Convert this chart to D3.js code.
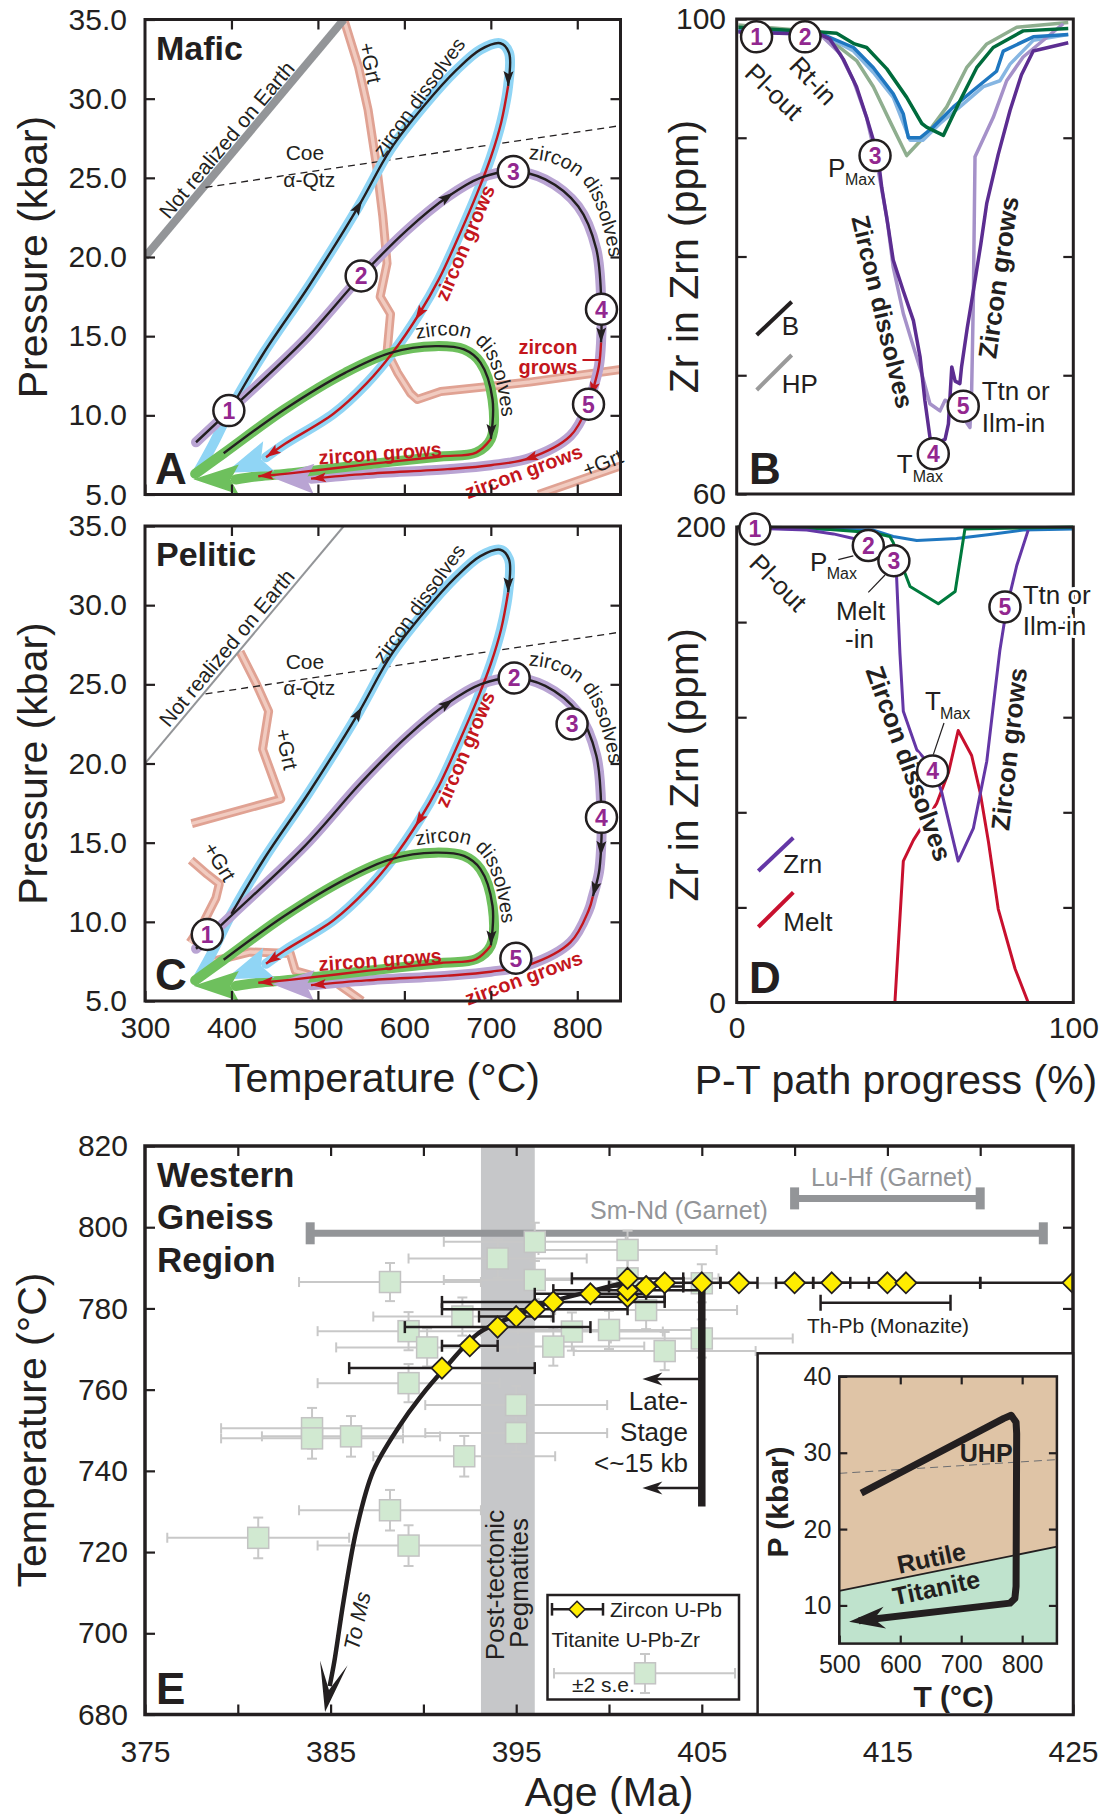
<!DOCTYPE html>
<html><head><meta charset="utf-8">
<script src="https://cdn.jsdelivr.net/npm/d3@7/dist/d3.min.js"></script>
<style>html,body{margin:0;padding:0;background:#fff}svg{display:block}</style>
</head><body>
<script>
// ================= DATA =================
// Panels A & C: P-T paths, [T (°C), P (kbar)]
const pressureTicks = [5,10,15,20,25,30,35];
const temperatureTicks = [300,400,500,600,700,800];
const notRealizedLine = [[300,20],[530,35]];
const coesiteQuartzLine = [[370,24.4],[850,28.3]];
const bluePath = [[362,6.5],[380,8.3],[400,10.5],[438,14.0],[490,18.2],[547,23.2],[584,26.8],[622,29.5],[660,31.8],[688,33.1],[711,33.5],[721,32.9],[720,30.8],[712,28.5],[700,26.3],[684,24.0],[662,21.2],[640,18.6],[617,16.4],[587,14.0],[556,12.0],[518,10.1],[462,8.2],[440,7.35]];
const purplePath = [[359,8.3],[400,10.4],[485,14.8],[550,18.8],[603,21.7],[650,23.8],[688,25.0],[726,25.4],[763,24.9],[801,23.2],[822,20.5],[828,16.7],[827.5,14.6],[825,13.1],[818,11.6],[813,10.7],[792,8.7],[745,7.3],[700,6.85],[650,6.6],[556,6.3],[492,6.0]];
const greenPath = [[358,6.3],[391,7.6],[462,10.4],[532,12.7],[584,13.95],[636,14.37],[669,14.16],[688,13.33],[702,11.0],[700,8.5],[683,7.65],[642,7.4],[556,6.9],[470,6.35],[431,6.15],[405,5.95]];
const blueArrowTip = [393,6.38];
const purpleArrowTip = [447,6.07];
const greenArrowTip = [356,5.96];
const purpleLabelPath = [[739,26.2],[770,25.95],[806,24.75],[829,22.0],[841,18.2],[845,14.5]];
const greenLabelPath = [[612,14.8],[650,15.05],[676,14.8],[692,14.0],[705,12.3],[712,10.3],[716,7.8]];
const garnetInA = [[[530,35],[547,32],[558,29.3],[568,25.7],[575,22.6],[580,19.6],[572,17.5],[584,16.4],[580,14.0],[592,12.7],[607,11.4],[615,11.0],[642,11.5],[745,12.1],[850,12.9]],[[755,5],[850,6.8]]];
const garnetInC = [[[410,27.06],[429,25.0],[443,23.3],[436,20.9],[457,17.75],[354,16.2]],[[353,13.9],[372,13.0],[386,12.4],[382,11.5],[368,10.0],[352,8.7]],[[378,7.5],[422,8.1],[468,8.0],[474,6.9],[520,6.2],[551,5.0]]];
const stagesA = [[397,10.3],[550,18.8],[726,25.4],[828,16.7],[813,10.7]];
const stagesC = [[372,9.2],[727,25.4],[794,22.5],[828,16.6],[729,7.7]];

// Panel B: Zr in zircon (ppm) vs P-T path progress (%)
const zrTicksB = [60,70,80,90,100];
const bZrnB = [[0.5,98.9],[24.8,98.7],[27.7,98.3],[31.7,96.6],[35.6,94.3],[38.6,91.7],[40.6,89.8],[42.1,88.1],[43.1,85.8],[45.0,82.5],[46.5,79.7],[49.5,77.1],[52.5,74.6],[54.5,71.5],[55.9,67.9],[57.4,64.8],[58.4,64.2],[61.9,64.6],[62.9,65.9],[63.9,70.7],[64.9,69.5],[66.3,69.3],[66.8,70.7],[68.5,74.0],[70.3,77.1],[72.5,81.0],[74.3,84.5],[77.7,88.6],[81.2,92.3],[84.6,95.3],[88.1,97.3],[98.5,98.0]];
const bZrnHP = [[0.5,99.0],[24.8,98.7],[30.7,97.1],[34.7,94.8],[38.6,91.7],[41.5,88.1],[44.6,83.3],[46.5,79.1],[49.5,75.2],[52.5,72.4],[55.0,70.1],[57.4,67.6],[60.4,67.0],[61.9,67.9],[64.4,67.6],[69.3,65.6],[69.8,68.7],[70.3,76.3],[70.8,88.4],[76.2,91.7],[80.2,94.8],[85.1,96.8],[97.0,99.6]];
const bGreenB = [[0.5,99.3],[24.8,98.9],[29.7,98.8],[35.0,97.9],[38.6,97.6],[44.6,95.8],[50.5,93.4],[55.0,91.2],[56.4,90.9],[61.4,90.2],[66.3,93.1],[71.3,95.9],[76.2,97.6],[85.1,99.0],[98.5,99.2]];
const bGreenHP = [[0.5,99.5],[24.8,98.9],[35.6,96.5],[40.6,94.3],[45.5,91.4],[50.5,88.5],[56.4,90.3],[62.4,92.6],[68.3,95.9],[74.3,97.9],[83.2,99.3],[98.5,99.7]];
const bBlueB = [[0.5,99.0],[24.8,98.8],[34.7,97.6],[40.6,95.9],[46.5,93.7],[49.5,92.0],[51.0,90.0],[54.5,90.0],[58.4,90.9],[64.4,92.6],[70.3,94.0],[77.2,95.6],[79.2,97.3],[88.1,98.5],[98.5,98.7]];
const bBlueHP = [[24.8,98.8],[34.7,97.3],[40.6,95.5],[46.5,93.4],[51.5,89.8],[55.4,89.8],[60.4,91.2],[66.3,92.6],[73.3,94.3],[78.2,94.8],[81.2,96.2],[88.1,98.2],[98.5,98.7]];
const stagesB = [[5.9,98.5],[20.3,98.5],[41.1,88.5],[58.4,63.4],[67.3,67.4]];

// Panel D
const zrTicksD = [0,40,80,120,160,200];
const dGreen = [[0,200],[20.8,199.7],[40.6,197.6],[45.5,196],[46.5,193.5],[51.5,175],[59.9,167.7],[64.9,172.9],[67.8,199.2],[100,200]];
const dBlue = [[0,199.7],[40.6,198.7],[46.5,196],[53.5,194.3],[65.3,195.2],[75.2,196.8],[85.1,198.7],[100,199.2]];
const dZrn = [[0,199.7],[20.8,198.7],[28.7,197.1],[34.7,195.2],[39.6,192.7],[46.5,187.1],[47.5,179],[48.5,146.7],[49.5,122.5],[53.5,106.3],[58.4,98.2],[60.9,88.5],[65.8,59.5],[70.3,73.2],[74.3,101.5],[76.7,130.5],[78.2,148.3],[80.2,166],[83.2,183.8],[86.6,198.7]];
const dMelt = [[47.0,0],[49.5,59.5],[52.5,68.3],[59.4,83.7],[62.9,96.6],[65.8,114.4],[69.8,103.9],[72.3,88.5],[74.8,67.5],[77.7,39.3],[82.7,14.2],[86.6,0]];
const stagesD = [[5.4,199.2],[39.1,192.2],[46.7,185.8],[58.2,97.4],[79.7,166.4]];

// Panel E: Western Gneiss Region, age (Ma) vs temperature (°C)
const ageTicks = [375,380,385,390,395,400,405,410,415,420,425];
const tempTicksE = [680,700,720,740,760,780,800,820];
const zirconAges  = [391.0,392.5,394.0,395.0,396.0,397.0,399.0,401.0,401.0,401.0,402.0,403.0,405.0,407.0,410.0,412.0,415.0,416.0,425.0];
const zirconTemps = [765.3,770.8,775.4,778.0,779.8,781.6,783.6,782.9,784.5,787.4,785.4,786.3,786.3,786.3,786.3,786.3,786.3,786.3,786.3];
const zirconAgeErr= [5.0,1.5,5.0,2.0,5.0,6.0,3.0,2.0,4.0,3.0,2.0,1.0,1.0,1.0,1.0,1.0,1.0,4.0,5.0];
const titaniteAges  = [388.2,389.2,390.2,389.2,384.0,384.0,386.1,392.2,388.2,389.2,381.1,396.0,394.0,401.0,396.0,392.1,398.0,400.0,402.0,397.0,403.0,405.0,395.0,395.0,401.0,405.0];
const titaniteTemps = [786.5,774.4,770.4,761.6,750.5,748.0,748.5,743.6,730.3,721.6,723.5,796.4,792.3,794.4,787.0,778.0,774.3,774.7,779.6,770.6,769.5,772.6,756.2,749.3,787.4,786.2];
const titaniteAgeErr= [4.9,4.9,4.9,4.9,4.9,4.9,4.8,4.9,4.9,4.9,4.9,4.9,4.8,4.8,4.9,4.8,4.9,4.9,4.9,4.9,4.9,4.9,4.9,4.9,4.9,4.9];
const titaniteTempErr=[4.7,4.7,4.7,4.7,5.0,5.0,5.0,5.0,5.0,5.0,5.0,4.7,4.7,4.7,4.7,4.7,4.7,4.7,4.7,4.7,4.7,4.7,4.7,4.7,4.7,4.7];
const toMsPath = [[401,786.5],[399,784.2],[397,781.8],[395,778.3],[393,774.0],[391.2,765.5],[389.8,758],[388.7,751],[387.3,740],[386.4,725.7],[385.7,708],[385.2,693],[384.95,687]];
const toMsTip = [384.7,680.6];
const pegmatiteBand = [393.1,396.0];
const smNdRange = [383.9,423.4], smNdTemp = 798.5;
const luHfRange = [410.0,420.0], luHfTemp = 807.1;
const thPbRange = [411.4,418.4], thPbTemp = 781.4;
const lateStageAge = 405, lateStageTemps = [786.3,731.2], lateStageArrowTemps = [762.6,735.8], lateStageArrowTo = 401.8;

// Inset: P-T path
const insetTTicks = [500,600,700,800];
const insetPTicks = [10,20,30,40];
const rutileTitaniteLine = [[500,11.9],[857,17.7]];
const insetCoeQtz = [[500,27.3],[857,29.1]];
const insetPath = [[536,24.7],[770,34.5],[782,34.9],[790,34.0],[791,32.5],[790,12.5],[788,10.9],[780,10.3],[532,8.0]];
const insetArrowTip = [516,7.85];

// ================= DRAWING =================
const FONT = "'Liberation Sans', Arial, Helvetica, sans-serif";
const INK = '#231f20', RED = '#c4161c', NUM = '#92278f';
const svg = d3.select('body').append('svg').attr('width',1110).attr('height',1818).attr('font-family',FONT);
const defs = svg.append('defs');

function arrowHead(g, from, tip, len, w, color, notch) {
  notch = notch||0;
  const dx=tip[0]-from[0], dy=tip[1]-from[1], L=Math.hypot(dx,dy)||1, ux=dx/L, uy=dy/L;
  const bx=tip[0]-ux*len, by=tip[1]-uy*len;
  const nx=tip[0]-ux*len*(1-notch), ny=tip[1]-uy*len*(1-notch);
  g.append('path').attr('d',`M${tip[0]},${tip[1]}L${bx-uy*w/2},${by+ux*w/2}L${nx},${ny}L${bx+uy*w/2},${by-ux*w/2}Z`).attr('fill',color);
}
function notes(g, S, list) {
  list.forEach(n => {
    const [px,py] = S(n.p);
    const t = g.append('text').attr('x',px).attr('y',py).attr('font-size',n.size||20)
      .attr('fill',n.fill||INK).attr('text-anchor', n.anchor || (n.mid?'middle':'start')).text(n.s);
    if (n.mid) t.attr('dy','0.35em');
    if (n.weight) t.attr('font-weight',n.weight);
    if (n.rot) t.attr('transform',`rotate(${n.rot},${px},${py})`);
    if (n.italic) t.attr('font-style','italic');
    if (n.halo) t.attr('stroke','#fff').attr('stroke-width',n.halo).attr('paint-order','stroke').attr('stroke-linejoin','round');
  });
}
function styleAxis(ag, size) {
  ag.select('.domain').remove();
  ag.attr('font-family',FONT);
  ag.selectAll('.tick line').attr('stroke',INK).attr('stroke-width',2.2);
  ag.selectAll('.tick text').attr('font-size',size).attr('fill',INK).attr('font-family',FONT);
}
function axes(g, x, y, o) {
  const L = o.len||10;
  const X0=x.range()[0], X1=x.range()[1], Y0=y.range()[0], Y1=y.range()[1];
  if (o.left) styleAxis(g.append('g').attr('transform',`translate(${X0},0)`).call(d3.axisLeft(y).tickValues(o.left.ticks).tickSize(o.left.len!==undefined?o.left.len:-L).tickPadding(o.left.pad||10).tickFormat(o.left.fmt||(()=> ''))), o.left.size||30);
  if (o.right) styleAxis(g.append('g').attr('transform',`translate(${X1},0)`).call(d3.axisRight(y).tickValues(o.right.ticks).tickSize(-L).tickFormat(()=> '')), 30);
  if (o.bottom) styleAxis(g.append('g').attr('transform',`translate(0,${Y0})`).call(d3.axisBottom(x).tickValues(o.bottom.ticks).tickSize(o.bottom.len!==undefined?o.bottom.len:-L).tickPadding(o.bottom.pad||10).tickFormat(o.bottom.fmt||(()=> ''))), o.bottom.size||30);
  if (o.top) styleAxis(g.append('g').attr('transform',`translate(0,${Y1})`).call(d3.axisTop(x).tickValues(o.top.ticks).tickSize(-L).tickFormat(()=> '')), 30);
}
function frame(g, x, y, w) {
  const [a,b]=x.range(), [c,d]=y.range();
  g.append('rect').attr('x',a).attr('y',d).attr('width',b-a).attr('height',c-d).attr('fill','none').attr('stroke',INK).attr('stroke-width',w||3);
}
function stageCircle(g, cx, cy, i) {
  g.append('circle').attr('cx',cx).attr('cy',cy).attr('r',15.5).attr('fill','#fff').attr('stroke',INK).attr('stroke-width',2.5);
  g.append('text').attr('x',cx).attr('y',cy).attr('dy','0.36em').attr('text-anchor','middle').attr('font-size',23).attr('font-weight','bold').attr('fill',NUM).text(i+1);
}
function yTitle(g, x, y, s, size) {
  g.append('text').attr('transform',`translate(${x},${y}) rotate(-90)`).attr('text-anchor','middle').attr('font-size',size||41).attr('fill',INK).text(s);
}

// ---------- Panels A and C ----------
function ptPanel(p) {
  const g = svg.append('g');
  const x = d3.scaleLinear().domain([300,850]).range([145,620.5]);
  const y = d3.scaleLinear().domain([5,35]).range([p.bottom,p.top]);
  const S = d => [x(d[0]), y(d[1])];
  const lin = d3.line().x(d=>x(d[0])).y(d=>y(d[1]));
  const crv = d3.line().x(d=>x(d[0])).y(d=>y(d[1])).curve(d3.curveCatmullRom.alpha(0.5));
  defs.append('clipPath').attr('id','clip'+p.id).append('rect').attr('x',145).attr('y',p.top).attr('width',475.5).attr('height',p.bottom-p.top);
  const pg = g.append('g').attr('clip-path',`url(#clip${p.id})`);
  p.grt.forEach(l => {
    pg.append('path').attr('d',lin(l)).attr('fill','none').attr('stroke','#e0a293').attr('stroke-width',9).attr('stroke-linejoin','round');
    pg.append('path').attr('d',lin(l)).attr('fill','none').attr('stroke','#f1cbc0').attr('stroke-width',3.5).attr('stroke-linejoin','round');
  });
  pg.append('path').attr('d',lin(notRealizedLine)).attr('fill','none').attr('stroke','#939598').attr('stroke-width',p.grayW);
  pg.append('path').attr('d',lin(coesiteQuartzLine)).attr('fill','none').attr('stroke',INK).attr('stroke-width',1.3).attr('stroke-dasharray','7,5');
  const halos = [[bluePath,'#90d5f5',blueArrowTip,32],[purplePath,'#b9a4d3',purpleArrowTip,30],[greenPath,'#6ec05d',greenArrowTip,30]];
  halos.forEach(([pts,col]) => pg.append('path').attr('d',crv(pts)).attr('fill','none').attr('stroke',col).attr('stroke-width',10).attr('stroke-linecap','round').attr('stroke-linejoin','round'));
  halos.forEach(([pts,col,tip,w]) => { const a=S(pts[pts.length-1]), t=S(tip); arrowHead(pg,a,t,Math.hypot(t[0]-a[0],t[1]-a[1])+3,w,col,0.18); });
  function seg(pts, a, b, color, mids) {
    const sub = pts.slice(a,b+1);
    pg.append('path').attr('d',crv(sub)).attr('fill','none').attr('stroke',color).attr('stroke-width',2.4);
    const sp = sub.map(S);
    arrowHead(pg, sp[sp.length-2], sp[sp.length-1], 15, 10, color, 0.2);
    mids.forEach(i => { const P=S(pts[i]), A=S(pts[i-1]), B=S(pts[i+1]); const dx=B[0]-A[0], dy=B[1]-A[1], L=Math.hypot(dx,dy);
      arrowHead(pg,[P[0]-dx/L,P[1]-dy/L],[P[0]+dx/L*7,P[1]+dy/L*7],15,10,color,0.2); });
  }
  p.segs.forEach(s => seg(s[0],s[1],s[2],s[3],s[4]));
  if (p.tick) pg.append('path').attr('d',lin(p.tick)).attr('stroke',RED).attr('stroke-width',2).attr('fill','none');
  [[purpleLabelPath,'pl'+p.id,4],[greenLabelPath,'gl'+p.id,2]].forEach(([pts,id,off]) => {
    defs.append('path').attr('id',id).attr('d',crv(pts));
    g.append('text').attr('font-size',20).attr('fill',INK).append('textPath').attr('href','#'+id).attr('xlink:href','#'+id).attr('startOffset',off).text('zircon dissolves');
  });
  notes(g, S, p.notes);
  p.stages.forEach((c,i) => { const [cx,cy]=S(c); stageCircle(g,cx,cy,i); });
  axes(g, x, y, {
    left:{ticks:pressureTicks, pad:18, fmt:d3.format('.1f')},
    right:{ticks:[10,15,20,25,30]},
    bottom:{ticks:temperatureTicks, pad:15.5, fmt:p.xLabels?d3.format('d'):(()=> '')},
    top:{ticks:[400,500,600,700,800]}
  });
  frame(g, x, y, 3);
  g.append('text').attr('x',156).attr('y',p.top+40).attr('font-size',34).attr('font-weight','bold').attr('fill',INK).text(p.title);
  g.append('text').attr('x',155).attr('y',p.bottom-11).attr('font-size',44).attr('font-weight','bold').attr('fill',INK).text(p.letter);
  yTitle(g, 47, (p.top+p.bottom)/2, 'Pressure (kbar)');
}
const commonNotes = (dy) => [
  {p:[394.5,27.4+dy], s:'Not realized on Earth', size:21, rot:-50, mid:true},
  {p:[485,26.1+dy], s:'Coe', size:21, anchor:'middle'},
  {p:[490,24.45+dy], s:'α-Qtz', size:21, anchor:'middle'},
  {p:[617,30.1], s:'zircon dissolves', size:20, rot:-54, mid:true},
  {p:[670,20.9], s:'zircon grows', size:20, rot:-67, mid:true, fill:RED, weight:'bold'},
  {p:[572,7.6], s:'zircon grows', size:20, rot:-4, mid:true, fill:RED, weight:'bold'},
  {p:[738,6.45], s:'zircon grows', size:20, rot:-20, mid:true, fill:RED, weight:'bold'}
];
ptPanel({id:'A', top:19.5, bottom:494.5, grayW:8, grt:garnetInA, stages:stagesA, title:'Mafic', letter:'A', xLabels:false,
  segs:[[bluePath,2,12,INK,[5]],[bluePath,12,23,RED,[18]],[purplePath,0,12,INK,[5]],[purplePath,12,21,RED,[14,17]],[greenPath,1,9,INK,[]],[greenPath,9,14,RED,[]]],
  tick:[[806,13.5],[826,13.5]],
  notes: commonNotes(0).concat([
    {p:[560.8,32.25], s:'+Grt', size:21, rot:78, mid:true},
    {p:[732,13.9], s:'zircon', size:20, fill:RED, weight:'bold'},
    {p:[732,12.6], s:'grows', size:20, fill:RED, weight:'bold'},
    {p:[829.4,7.0], s:'+Grt', size:21, rot:-22, mid:true}
  ])});
ptPanel({id:'C', top:526, bottom:1001, grayW:2, grt:garnetInC, stages:stagesC, title:'Pelitic', letter:'C', xLabels:true,
  segs:[[bluePath,2,12,INK,[5]],[bluePath,12,23,RED,[18]],[purplePath,0,14,INK,[5,12]],[purplePath,14,21,RED,[]],[greenPath,1,9,INK,[]],[greenPath,9,14,RED,[]]],
  notes: commonNotes(-0.1).concat([
    {p:[464,20.9], s:'+Grt', size:21, rot:78, mid:true},
    {p:[386.4,13.8], s:'+Grt', size:21, rot:58, mid:true}
  ])});
svg.append('text').attr('x',382.5).attr('y',1092).attr('text-anchor','middle').attr('font-size',41).attr('fill',INK).text('Temperature (°C)');

// ---------- Panels B and D ----------
function zrPanel(p) {
  const g = svg.append('g');
  const x = d3.scaleLinear().domain([0,100]).range([736.7,1073.3]);
  const y = d3.scaleLinear().domain(p.domain).range([p.bottom,p.top]);
  const S = d => [x(d[0]), y(d[1])];
  const lin = d3.line().x(d=>x(d[0])).y(d=>y(d[1]));
  defs.append('clipPath').attr('id','clip'+p.id).append('rect').attr('x',736.7).attr('y',p.top-3).attr('width',336.6).attr('height',p.bottom-p.top+3);
  const pg = g.append('g').attr('clip-path',`url(#clip${p.id})`);
  p.series.forEach(([d,col,w]) => pg.append('path').attr('d',lin(d)).attr('fill','none').attr('stroke',col).attr('stroke-width',w||3.5).attr('stroke-linejoin','round'));
  p.legend.forEach(([a,b,col]) => g.append('line').attr('x1',a[0]).attr('y1',a[1]).attr('x2',b[0]).attr('y2',b[1]).attr('stroke',col).attr('stroke-width',4));
  (p.leaders||[]).forEach(([a,b]) => g.append('line').attr('x1',a[0]).attr('y1',a[1]).attr('x2',b[0]).attr('y2',b[1]).attr('stroke',INK).attr('stroke-width',1.2));
  axes(g, x, y, {
    left:{ticks:p.ticks, pad:10.7, fmt:d=> (d===p.domain[0]||d===p.domain[1])?d:''},
    right:{ticks:p.ticks.slice(1,-1)},
    bottom: p.xLabels ? {ticks:[0,100], len:0, pad:14, fmt:d3.format('d')} : null
  });
  frame(g, x, y, 3);
  notes(pg, d=>d, p.inNotes||[]);
  notes(g, d=>d, p.notes);
  p.stages.forEach((c,i) => { const [cx,cy]=S(c); stageCircle(g,cx,cy,i); });
  yTitle(g, 698, (p.top+p.bottom)/2, 'Zr in Zrn (ppm)');
}
zrPanel({id:'B', domain:[60,100], top:19, bottom:494, ticks:zrTicksB, stages:stagesB, xLabels:false,
  series:[[bGreenHP,'#8fae8f'],[bBlueHP,'#86b6e2'],[bZrnHP,'#a591c9'],[bBlueB,'#1f77c0'],[bGreenB,'#006b3c'],[bZrnB,'#5c2d91']],
  legend:[[[756.7,335],[791.7,301.7],INK],[[756.7,390],[791.7,355],'#9a9a9a']],
  notes:[
    {p:[774,91.7], s:'Pl-out', size:26, rot:44, mid:true},
    {p:[813.3,80.8], s:'Rt-in', size:26, rot:46, mid:true},
    {p:[828,177], s:'P', size:26},
    {p:[845,185], s:'Max', size:16},
    {p:[882.5,311.7], s:'Zircon dissolves', size:25, rot:76.6, mid:true, weight:'bold'},
    {p:[998.3,277.5], s:'Zircon grows', size:26, rot:-82, mid:true, weight:'bold'},
    {p:[981.7,400], s:'Ttn or', size:26},
    {p:[981.7,431.7], s:'Ilm-in', size:26},
    {p:[896.7,473.3], s:'T', size:26},
    {p:[912.7,481.7], s:'Max', size:16},
    {p:[781.7,335], s:'B', size:26},
    {p:[781.7,393.3], s:'HP', size:26},
    {p:[749,484], s:'B', size:44, weight:'bold'}
  ]});
zrPanel({id:'D', domain:[0,200], top:527, bottom:1002.5, ticks:zrTicksD, stages:stagesD, xLabels:true,
  series:[[dBlue,'#1f77c0',3],[dGreen,'#007a3d',3],[dMelt,'#c8102e',3],[dZrn,'#6437a6',3]],
  legend:[[[758.3,871],[793.3,837.7],'#6437a6'],[[758.3,927],[793.3,892.3],'#c8102e']],
  leaders:[[[838.3,559.6],[853.3,555.8]],[[868.3,592.3],[885,575]],[[944,723],[933.3,754.6]]],
  inNotes:[
    {p:[909,763.5], s:'Zircon dissolves', size:26, rot:70, mid:true, weight:'bold', halo:6},
    {p:[1009,749], s:'Zircon grows', size:26, rot:-83.6, mid:true, weight:'bold', halo:6}
  ],
  notes:[
    {p:[778.3,582.7], s:'Pl-out', size:26, rot:45, mid:true},
    {p:[810,571], s:'P', size:26},
    {p:[826.7,578.8], s:'Max', size:16},
    {p:[836,620], s:'Melt', size:26},
    {p:[845,648], s:'-in', size:26},
    {p:[925,709.6], s:'T', size:26},
    {p:[940,718.5], s:'Max', size:16},
    {p:[1022.7,603.8], s:'Ttn or', size:26, halo:6},
    {p:[1022.7,635.4], s:'Ilm-in', size:26, halo:6},
    {p:[783.3,873], s:'Zrn', size:26},
    {p:[783.3,930.8], s:'Melt', size:26},
    {p:[749,993], s:'D', size:44, weight:'bold'}
  ]});
svg.append('text').attr('x',896).attr('y',1094).attr('text-anchor','middle').attr('font-size',41).attr('fill',INK).text('P-T path progress (%)');

// ---------- Panel E ----------
(function(){
  const g = svg.append('g');
  const x = d3.scaleLinear().domain([375,425]).range([145,1073]);
  const y = d3.scaleLinear().domain([680,820]).range([1714.5,1146]);
  defs.append('clipPath').attr('id','clipE').append('rect').attr('x',145).attr('y',1146).attr('width',928).attr('height',568.5);
  const eg = g.append('g').attr('clip-path','url(#clipE)');
  eg.append('rect').attr('x',x(pegmatiteBand[0])).attr('y',1146).attr('width',x(pegmatiteBand[1])-x(pegmatiteBand[0])).attr('height',568.5).attr('fill','#c6c7c9');
  [[smNdRange,smNdTemp],[luHfRange,luHfTemp]].forEach(([r,t]) => {
    eg.append('line').attr('x1',x(r[0])).attr('x2',x(r[1])).attr('y1',y(t)).attr('y2',y(t)).attr('stroke','#939598').attr('stroke-width',7);
    r.forEach(a => eg.append('rect').attr('x',x(a)-4.5).attr('y',y(t)-11).attr('width',9).attr('height',22).attr('fill','#939598'));
  });
  const tb = eg.append('g').attr('stroke','#c8c8c8').attr('stroke-width',2);
  titaniteAges.forEach((a,i) => {
    const t=titaniteTemps[i], ea=titaniteAgeErr[i], et=titaniteTempErr[i], cx=x(a), cy=y(t);
    tb.append('line').attr('x1',x(a-ea)).attr('x2',x(a+ea)).attr('y1',cy).attr('y2',cy);
    [a-ea,a+ea].forEach(v => tb.append('line').attr('x1',x(v)).attr('x2',x(v)).attr('y1',cy-5).attr('y2',cy+5));
    tb.append('line').attr('x1',cx).attr('x2',cx).attr('y1',y(t-et)).attr('y2',y(t+et));
    [t-et,t+et].forEach(v => tb.append('line').attr('x1',cx-5).attr('x2',cx+5).attr('y1',y(v)).attr('y2',y(v)));
  });
  titaniteAges.forEach((a,i) => eg.append('rect').attr('x',x(a)-10.5).attr('y',y(titaniteTemps[i])-10.5).attr('width',21).attr('height',21).attr('fill','#d1e9d1').attr('stroke','#c3c3c3').attr('stroke-width',1.5));
  const zb = eg.append('g').attr('stroke',INK).attr('stroke-width',2.5);
  zirconAges.forEach((a,i) => {
    const cy=y(zirconTemps[i]), e=zirconAgeErr[i];
    zb.append('line').attr('x1',x(a-e)).attr('x2',x(a+e)).attr('y1',cy).attr('y2',cy);
    [a-e,a+e].forEach(v => zb.append('line').attr('x1',x(v)).attr('x2',x(v)).attr('y1',cy-6).attr('y2',cy+6));
  });
  const ty=y(thPbTemp);
  eg.append('line').attr('x1',x(thPbRange[0])).attr('x2',x(thPbRange[1])).attr('y1',ty).attr('y2',ty).attr('stroke',INK).attr('stroke-width',2.5);
  thPbRange.forEach(a => eg.append('line').attr('x1',x(a)).attr('x2',x(a)).attr('y1',ty-8).attr('y2',ty+8).attr('stroke',INK).attr('stroke-width',2.5));
  const crv = d3.line().x(d=>x(d[0])).y(d=>y(d[1])).curve(d3.curveCatmullRom.alpha(0.5));
  eg.append('path').attr('d',crv(toMsPath)).attr('fill','none').attr('stroke',INK).attr('stroke-width',4.5);
  const e1=toMsPath[toMsPath.length-1];
  arrowHead(eg,[x(e1[0]),y(e1[1])],[x(toMsTip[0]),y(toMsTip[1])],50,28,INK,0.55);
  eg.append('line').attr('x1',x(lateStageAge)).attr('x2',x(lateStageAge)).attr('y1',y(lateStageTemps[0])).attr('y2',y(lateStageTemps[1])).attr('stroke',INK).attr('stroke-width',7.5);
  lateStageArrowTemps.forEach(t => {
    eg.append('line').attr('x1',x(lateStageAge)).attr('x2',x(lateStageArrowTo)+8).attr('y1',y(t)).attr('y2',y(t)).attr('stroke',INK).attr('stroke-width',2.5);
    arrowHead(eg,[x(lateStageAge),y(t)],[x(lateStageArrowTo),y(t)],20,13,INK,0.3);
  });
  zirconAges.forEach((a,i) => { const cx=x(a), cy=y(zirconTemps[i]);
    eg.append('path').attr('d',`M${cx},${cy-10.5}L${cx+10.5},${cy}L${cx},${cy+10.5}L${cx-10.5},${cy}Z`).attr('fill','#ffed00').attr('stroke',INK).attr('stroke-width',1.8); });
  notes(g, d=>d, [
    {p:[157,1187], s:'Western', size:35, weight:'bold'},
    {p:[157,1229], s:'Gneiss', size:35, weight:'bold'},
    {p:[157,1272], s:'Region', size:35, weight:'bold'},
    {p:[156,1704], s:'E', size:44, weight:'bold'},
    {p:[679,1219], s:'Sm-Nd (Garnet)', size:25, fill:'#939598', anchor:'middle'},
    {p:[891.7,1186], s:'Lu-Hf (Garnet)', size:25, fill:'#939598', anchor:'middle'},
    {p:[888,1333], s:'Th-Pb (Monazite)', size:21, anchor:'middle'},
    {p:[688,1410], s:'Late-', size:26, anchor:'end'},
    {p:[688,1441], s:'Stage', size:26, anchor:'end'},
    {p:[688,1472], s:'<~15 kb', size:26, anchor:'end'},
    {p:[357,1621], s:'To Ms', size:22, rot:-78, mid:true, italic:true},
    {p:[504,1585], s:'Post-tectonic', size:26, rot:-90, anchor:'middle'},
    {p:[527.5,1583], s:'Pegmatites', size:26, rot:-90, anchor:'middle'}
  ]);
  const lg = g.append('g');
  lg.append('rect').attr('x',547.5).attr('y',1595).attr('width',191.5).attr('height',104.5).attr('fill','#fff').attr('stroke',INK).attr('stroke-width',2.5);
  lg.append('line').attr('x1',552).attr('x2',603).attr('y1',1609.3).attr('y2',1609.3).attr('stroke',INK).attr('stroke-width',2.5);
  [552,603].forEach(v => lg.append('line').attr('x1',v).attr('x2',v).attr('y1',1603).attr('y2',1615.6).attr('stroke',INK).attr('stroke-width',2.5));
  lg.append('path').attr('d','M577,1601.3L585,1609.3L577,1617.3L569,1609.3Z').attr('fill','#ffed00').attr('stroke',INK).attr('stroke-width',1.6);
  const lt = lg.append('g').attr('stroke','#c8c8c8').attr('stroke-width',2);
  lt.append('line').attr('x1',554).attr('x2',735).attr('y1',1673.3).attr('y2',1673.3);
  [554,735].forEach(v => lt.append('line').attr('x1',v).attr('x2',v).attr('y1',1668).attr('y2',1678.6));
  lt.append('line').attr('x1',645).attr('x2',645).attr('y1',1654).attr('y2',1693);
  [1654,1693].forEach(v => lt.append('line').attr('x1',640).attr('x2',650).attr('y1',v).attr('y2',v));
  lg.append('rect').attr('x',634.5).attr('y',1662.8).attr('width',21).attr('height',21).attr('fill','#d1e9d1').attr('stroke','#c3c3c3').attr('stroke-width',1.5);
  notes(lg, d=>d, [
    {p:[610,1616.5], s:'Zircon U-Pb', size:21},
    {p:[551.5,1647], s:'Titanite U-Pb-Zr', size:21},
    {p:[572,1691.5], s:'±2 s.e.', size:21}
  ]);
  axes(g, x, y, {
    left:{ticks:tempTicksE, pad:17, fmt:d3.format('d')},
    right:{ticks:[700,720,740,760,780,800]},
    bottom:{ticks:ageTicks, pad:26, fmt:d => ((d-375)%10===0)?d:''},
    top:{ticks:ageTicks.slice(1,-1)}
  });
  const ig = svg.append('g');
  ig.append('rect').attr('x',757.6).attr('y',1353.3).attr('width',315.4).attr('height',361.2).attr('fill','#fff').attr('stroke',INK).attr('stroke-width',2.5);
  const xi = d3.scaleLinear().domain([500,857]).range([839.3,1056.9]);
  const yi = d3.scaleLinear().domain([5,40]).range([1643.6,1376.4]);
  const li = d3.line().x(d=>xi(d[0])).y(d=>yi(d[1]));
  const r0=rutileTitaniteLine[0], r1=rutileTitaniteLine[1];
  ig.append('path').attr('d',li([[500,40],[857,40],r1,r0])+'Z').attr('fill','#dfc4a6');
  ig.append('path').attr('d',li([r0,r1,[857,5],[500,5]])+'Z').attr('fill','#bfe3cd');
  ig.append('path').attr('d',li(rutileTitaniteLine)).attr('stroke',INK).attr('stroke-width',1.8).attr('fill','none');
  ig.append('path').attr('d',li(insetCoeQtz)).attr('stroke','#6d6e71').attr('stroke-width',1).attr('stroke-dasharray','8,5').attr('fill','none');
  ig.append('path').attr('d',li(insetPath)).attr('stroke',INK).attr('stroke-width',7).attr('fill','none').attr('stroke-linejoin','round');
  const ie=insetPath[insetPath.length-1];
  arrowHead(ig,[xi(ie[0]),yi(ie[1])],[xi(insetArrowTip[0]),yi(insetArrowTip[1])],36,22,INK,0.3);
  notes(ig, d=>[xi(d[0]),yi(d[1])], [
    {p:[741,29.9], s:'UHP', size:25, weight:'bold', mid:true},
    {p:[651,16.2], s:'Rutile', size:25, weight:'bold', mid:true, rot:-12},
    {p:[659,12.3], s:'Titanite', size:25, weight:'bold', mid:true, rot:-12}
  ]);
  axes(ig, xi, yi, {
    len:8,
    left:{ticks:insetPTicks, pad:8, size:25, fmt:d3.format('d')},
    right:{ticks:[10,20,30]},
    bottom:{ticks:insetTTicks, pad:11.7, size:25, fmt:d3.format('d')},
    top:{ticks:[600,700,800]}
  });
  frame(ig, xi, yi, 2.5);
  ig.append('text').attr('transform','translate(788,1502) rotate(-90)').attr('text-anchor','middle').attr('font-size',30).attr('font-weight','bold').attr('fill',INK).text('P (kbar)');
  ig.append('text').attr('x',953.6).attr('y',1707).attr('text-anchor','middle').attr('font-size',30).attr('font-weight','bold').attr('fill',INK).text('T (°C)');
  frame(g, x, y, 3.5);
  yTitle(g, 46, 1430, 'Temperature (°C)');
  g.append('text').attr('x',609).attr('y',1806).attr('text-anchor','middle').attr('font-size',41).attr('fill',INK).text('Age (Ma)');
})();
</script>
</body></html>
